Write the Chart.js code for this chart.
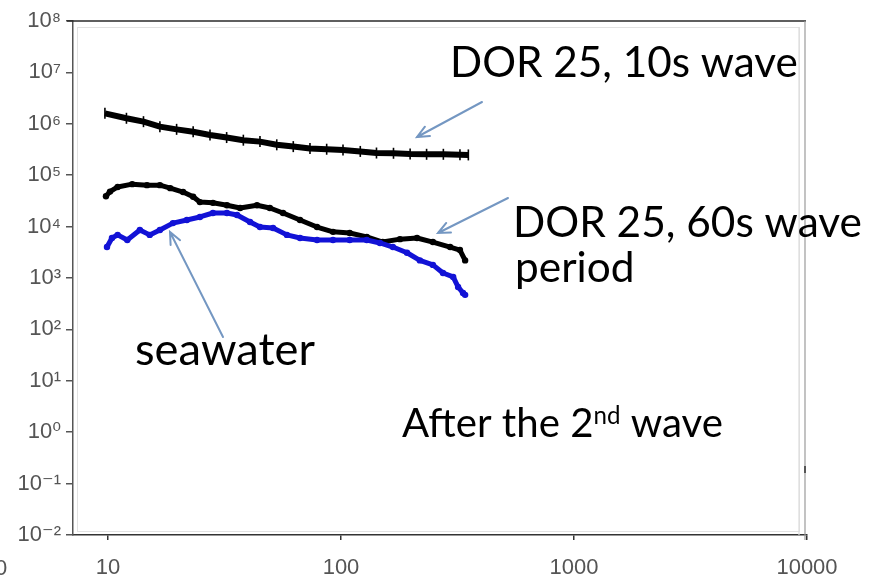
<!DOCTYPE html>
<html>
<head>
<meta charset="utf-8">
<script src="https://cdn.jsdelivr.net/npm/chart.js@4.4.1/dist/chart.umd.min.js"></script>
<style>
  html, body { margin: 0; padding: 0; background: #fff; }
  canvas { display: block; }
</style>
</head>
<body>
<canvas id="c" width="881" height="584"></canvas>
<script>
// ---- data ----
const tenSX = [9.7, 12.0, 14.2, 16.7, 19.7, 23.2, 27.4, 32.3, 38.1, 44.9, 53.0, 62.4, 73.6, 86.8, 102, 121, 142, 168, 198, 233, 275, 324, 352];
const tenSY = [1.60e6, 1.28e6, 1.10e6, 8.8e5, 7.8e5, 7.0e5, 6.05e5, 5.4e5, 4.8e5, 4.5e5, 3.9e5, 3.6e5, 3.3e5, 3.2e5, 3.1e5, 2.9e5, 2.7e5, 2.67e5, 2.58e5, 2.55e5, 2.55e5, 2.5e5, 2.48e5];

const sixtySX = [9.8, 10.2, 11.0, 12.7, 14.7, 16.7, 18.5, 21.0, 23.2, 24.8, 28.2, 32.4, 36.9, 43.6, 49.5, 56.4, 66.7, 78.9, 92.4, 109, 129, 151, 179, 212, 248, 294, 324, 341];
const sixtySY = [3.9e4, 4.8e4, 5.9e4, 6.7e4, 6.4e4, 6.4e4, 5.6e4, 4.7e4, 3.8e4, 3.0e4, 2.9e4, 2.6e4, 2.3e4, 2.6e4, 2.3e4, 1.84e4, 1.34e4, 9.8e3, 7.9e3, 7.5e3, 6.3e3, 5.0e3, 5.7e3, 6.0e3, 5.0e3, 4.0e3, 3.5e3, 2.2e3];

const seaX = [9.9, 10.4, 11.0, 12.1, 13.7, 15.1, 16.7, 19.0, 21.8, 24.8, 28.2, 32.4, 35.8, 40.7, 44.9, 51.1, 58.6, 66.7, 78.9, 92.4, 109, 129, 147, 167, 192, 218, 248, 274, 303, 318, 334, 341];
const seaY = [4.0e3, 6.0e3, 6.9e3, 5.5e3, 8.6e3, 6.9e3, 8.6e3, 1.17e4, 1.34e4, 1.54e4, 1.84e4, 1.84e4, 1.68e4, 1.23e4, 9.8e3, 9.4e3, 6.9e3, 6.0e3, 5.5e3, 5.5e3, 5.5e3, 5.5e3, 4.8e3, 4.0e3, 3.1e3, 2.2e3, 1.8e3, 1.25e3, 1.05e3, 670, 510, 470];

const xTickValues = [10, 100, 1000, 10000];
const xTickLabels = ['10', '100', '1000', '10000'];
const yTickValues = [1e-2, 1e-1, 1, 10, 100, 1e3, 1e4, 1e5, 1e6, 1e7, 1e8];
const yTickLabels = ['10\u207B\u00B2', '10\u207B\u00B9', '10\u2070', '10\u00B9', '10\u00B2', '10\u00B3', '10\u2074', '10\u2075', '10\u2076', '10\u2077', '10\u2078'];

const seriesNames = ['seawater', 'DOR 25, 60s wave period', 'DOR 25, 10s wave'];

function pts(xs, ys) { return xs.map((x, i) => ({ x: x, y: ys[i] })); }

const AXIS_FONT = "'Liberation Sans', 'DejaVu Sans', Arial, sans-serif";
const NOTE_FONT = "Lato, 'Noto Sans', sans-serif";
const ARROW = '#7497c2';

function fitFont(ctx, text, targetW) {
  ctx.font = '40px ' + NOTE_FONT;
  const w = ctx.measureText(text).width;
  return 40 * targetW / w;
}

function arrow(ctx, x1, y1, x2, y2) {
  ctx.save();
  ctx.strokeStyle = ARROW;
  ctx.lineWidth = 2;
  ctx.lineCap = 'round';
  ctx.beginPath();
  ctx.moveTo(x1, y1);
  ctx.lineTo(x2, y2);
  const a = Math.atan2(y1 - y2, x1 - x2);
  const L = 13, s = 0.42;
  ctx.moveTo(x2 + L * Math.cos(a + s), y2 + L * Math.sin(a + s));
  ctx.lineTo(x2, y2);
  ctx.lineTo(x2 + L * Math.cos(a - s), y2 + L * Math.sin(a - s));
  ctx.stroke();
  ctx.restore();
}

const decor = {
  id: 'decor',
  beforeDatasetsDraw(chart) {
    const ctx = chart.ctx;
    const a = chart.chartArea;
    ctx.save();
    ctx.strokeStyle = '#e2e2e2';
    ctx.lineWidth = 1;
    ctx.strokeRect(a.left + 4.5, a.top + 6.5, a.right - a.left - 12, a.bottom - a.top - 10);
    ctx.restore();
  },
  afterDraw(chart) {
    const ctx = chart.ctx;
    const a = chart.chartArea;
    ctx.save();
    ctx.strokeStyle = '#2a2a2a';
    ctx.lineWidth = 1.5;
    ctx.beginPath();
    ctx.moveTo(a.left - 6, a.top);
    ctx.lineTo(a.right - 1, a.top);
    ctx.stroke();
    ctx.strokeStyle = '#9a9a9a';
    ctx.lineWidth = 1.2;
    ctx.beginPath();
    ctx.moveTo(a.right - 2, a.top);
    ctx.lineTo(a.right - 2, a.bottom + 5);
    ctx.stroke();
    ctx.strokeStyle = '#dddddd';
    ctx.beginPath();
    ctx.moveTo(a.right - 8, a.top + 6);
    ctx.lineTo(a.right - 8, a.bottom);
    ctx.stroke();
    ctx.fillStyle = '#555';
    ctx.fillRect(a.right - 3, 466, 2, 7);

    ctx.fillStyle = '#555';
    ctx.font = '22px ' + AXIS_FONT;
    ctx.textAlign = 'center';
    ctx.textBaseline = 'middle';
    ctx.fillText('0', 1, 569);

    ctx.fillStyle = '#000';
    ctx.textAlign = 'left';
    ctx.textBaseline = 'alphabetic';
    let fs = fitFont(ctx, 'DOR 25, 10s wave', 348);
    ctx.font = fs.toFixed(2) + 'px ' + NOTE_FONT;
    ctx.fillText('DOR 25, 10s wave', 450, 77);

    fs = fitFont(ctx, 'DOR 25, 60s wave', 349);
    ctx.font = fs.toFixed(2) + 'px ' + NOTE_FONT;
    ctx.fillText('DOR 25, 60s wave', 513, 237);
    ctx.fillText('period', 515, 282);

    fs = fitFont(ctx, 'seawater', 180);
    ctx.font = fs.toFixed(2) + 'px ' + NOTE_FONT;
    ctx.fillText('seawater', 135, 365);

    const p1 = 'After the 2', sup = 'nd', p2 = ' wave';
    ctx.font = '40px ' + NOTE_FONT;
    const w1 = ctx.measureText(p1).width, w3 = ctx.measureText(p2).width;
    ctx.font = '24px ' + NOTE_FONT;
    const w2 = ctx.measureText(sup).width;
    const k = 321 / (w1 + w2 + w3);
    const big = 40 * k, small = 24 * k;
    let x = 402;
    ctx.font = big.toFixed(2) + 'px ' + NOTE_FONT;
    ctx.fillText(p1, x, 437);
    x += w1 * k;
    ctx.font = small.toFixed(2) + 'px ' + NOTE_FONT;
    ctx.fillText(sup, x, 424);
    x += w2 * k;
    ctx.font = big.toFixed(2) + 'px ' + NOTE_FONT;
    ctx.fillText(p2, x, 437);

    arrow(ctx, 482, 102, 417, 137);
    arrow(ctx, 508, 198, 438, 233);
    arrow(ctx, 223, 337, 170, 232);
    ctx.restore();
  }
};

new Chart(document.getElementById('c'), {
  type: 'line',
  data: {
    datasets: [
      {
        label: seriesNames[0],
        data: pts(seaX, seaY),
        borderColor: '#1212d6',
        backgroundColor: '#1212d6',
        borderWidth: 5,
        borderJoinStyle: 'round',
        borderCapStyle: 'round',
        pointRadius: 3.2,
        pointBorderWidth: 0,
        tension: 0
      },
      {
        label: seriesNames[1],
        data: pts(sixtySX, sixtySY),
        borderColor: '#000',
        backgroundColor: '#000',
        borderWidth: 5,
        borderJoinStyle: 'round',
        borderCapStyle: 'round',
        pointRadius: 3.2,
        pointBorderWidth: 0,
        tension: 0
      },
      {
        label: seriesNames[2],
        data: pts(tenSX, tenSY),
        borderColor: '#000',
        backgroundColor: '#000',
        borderWidth: 6,
        borderJoinStyle: 'round',
        pointStyle: 'line',
        pointRotation: 90,
        pointRadius: 5.5,
        pointBorderWidth: 1.6,
        pointBorderColor: '#000',
        tension: 0
      }
    ]
  },
  options: {
    responsive: false,
    animation: false,
    events: [],
    layout: { padding: { top: 21, right: 74, left: 0, bottom: 0 } },
    plugins: { legend: { display: false }, tooltip: { enabled: false } },
    scales: {
      x: {
        type: 'logarithmic',
        position: 'bottom',
        min: 7.076,
        max: 10000,
        afterBuildTicks: s => { s.ticks = xTickValues.map(v => ({ value: v })); },
        afterFit: s => { s.height = 49; },
        ticks: {
          autoSkip: false,
          maxRotation: 0,
          padding: 15,
          color: '#555',
          font: { family: AXIS_FONT, size: 22 },
          callback: (v, i) => xTickLabels[i]
        },
        grid: { drawOnChartArea: false, drawTicks: true, tickLength: 5, color: '#333', lineWidth: 1.5 },
        border: { display: true, color: '#333', width: 1.5 }
      },
      y: {
        type: 'logarithmic',
        position: 'left',
        min: 1e-2,
        max: 1e8,
        afterBuildTicks: s => { s.ticks = yTickValues.map(v => ({ value: v })); },
        afterFit: s => { s.width = 73; },
        ticks: {
          autoSkip: false,
          padding: 5,
          color: '#555',
          font: { family: AXIS_FONT, size: 22 },
          callback: (v, i) => yTickLabels[i]
        },
        grid: { drawOnChartArea: false, drawTicks: true, tickLength: 7, color: '#555', lineWidth: 1.5 },
        border: { display: true, color: '#555', width: 1.5 }
      }
    }
  },
  plugins: [decor]
});
</script>
</body>
</html>
